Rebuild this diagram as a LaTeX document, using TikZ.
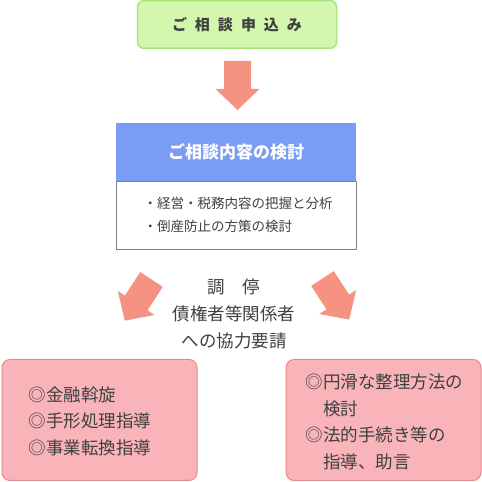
\documentclass[tikz,border=0pt]{standalone}
\usepackage{fontspec}
\setmainfont{Noto Sans CJK JP}
\definecolor{textgray}{HTML}{404040}
\definecolor{greenfill}{HTML}{D4F7B0}
\definecolor{greenline}{HTML}{A6E67C}
\definecolor{bluefill}{HTML}{7B9CF4}
\definecolor{boxline}{HTML}{808080}
\definecolor{arrowfill}{HTML}{F59282}
\definecolor{pinkfill}{HTML}{F8B4B8}
\definecolor{pinkline}{HTML}{EE868C}
\tikzset{
  bigarrow/.pic={\fill[arrowfill] (-13.5bp,0bp) -- (13.5bp,0bp) -- (13.5bp,-28bp) -- (22bp,-28bp) -- (0bp,-49bp) -- (-22bp,-28bp) -- (-13.5bp,-28bp) -- cycle;},
  pinkbox/.style={draw=pinkline,fill=pinkfill,line width=1bp,rounded corners=8bp,minimum width=195bp,minimum height=121bp},
}
\begin{document}
\begin{tikzpicture}[line join=bevel,text=textgray]
\useasboundingbox (0bp,0bp) rectangle (482bp,482bp);
%%
\node (node_0) at (237bp,457.5bp) [draw=greenline,fill=greenfill,line width=1.5bp,rounded corners=6bp,minimum width=199bp,minimum height=47.5bp,font=\fontsize{15bp}{17bp}\selectfont\bfseries] {ご\hspace{8bp}相\hspace{8bp}談\hspace{8bp}申\hspace{8bp}込\hspace{8bp}み};
  \pic at (237.5bp,421bp) {bigarrow};
  \node (node_1) at (236bp,330bp) [fill=bluefill,minimum width=240bp,minimum height=58bp,text=white,font=\fontsize{17bp}{20bp}\selectfont\bfseries] {ご相談内容の検討};
  \node (node_2) at (236bp,267bp) [draw=boxline,fill=white,minimum width=240bp,minimum height=68bp,anchor=center] {};
  \node (node_3) at (140bp,267bp) [anchor=west,align=left,font=\fontsize{13.5bp}{23bp}\selectfont] {・経営・税務内容の把握と分析\\・倒産防止の方策の検討};
%
  \pic[rotate=-33] at (151.5bp,202.5bp) {bigarrow};
  \pic[rotate=33] at (322.5bp,203.5bp) {bigarrow};
  \node (node_4) at (234bp,168bp) [align=center,font=\fontsize{17.5bp}{27bp}\selectfont] {調\quad 停\\債権者等関係者\\への協力要請};
%
  \node (node_5) at (99.5bp,62bp) [pinkbox] {};
  \node (node_6) at (25bp,61bp) [anchor=west,align=left,font=\fontsize{17.5bp}{26.5bp}\selectfont] {◎金融斡旋\\◎手形処理指導\\◎事業転換指導};
  \node (node_7) at (383.5bp,62bp) [pinkbox] {};
  \node (node_8) at (302bp,60bp) [anchor=west,align=left,font=\fontsize{17.5bp}{26.5bp}\selectfont] {◎円滑な整理方法の\\\hspace{1em}検討\\◎法的手続き等の\\\hspace{1em}指導、助言};
%
\end{tikzpicture}
\end{document}
